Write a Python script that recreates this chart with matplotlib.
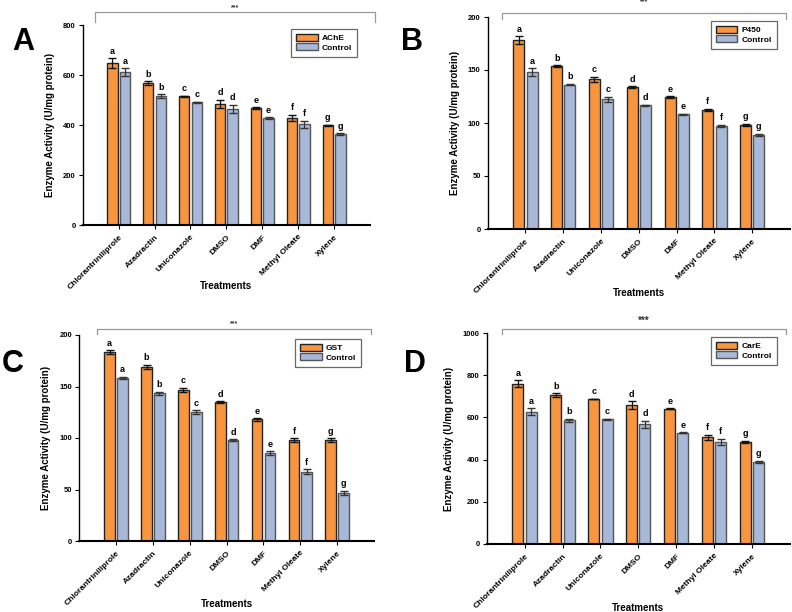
import matplotlib
matplotlib.use("Agg")
import matplotlib.pyplot as plt
import numpy as np
from matplotlib.lines import Line2D

plt.rcParams['font.family'] = ['Liberation Sans', 'DejaVu Sans']
plt.rcParams['font.weight'] = 'bold'

treatments = ["Chlorantriniliprole", "Azadractin", "Uniconazole", "DMSO", "DMF",
              "Methyl Oleate", "Xylene"]
sig_letters = ["a", "b", "c", "d", "e", "f", "g"]

ache = [648, 567, 515, 485, 469, 428, 399]
ache_err = [19, 8, 3, 16, 3, 13, 3]
ache_ctrl = [612, 515, 491, 465, 429, 403, 364]
ache_ctrl_err = [16, 8, 3, 17, 3, 14, 3]

p450 = [178.3, 153.8, 141.2, 134.0, 124.5, 112.3, 98.4]
p450_err = [3.5, 0.7, 2.2, 0.7, 0.7, 1.2, 1.0]
p450_ctrl = [148.0, 136.2, 122.3, 116.7, 108.2, 97.2, 88.7]
p450_ctrl_err = [3.8, 0.7, 2.2, 0.7, 0.7, 1.2, 1.3]

gst = [183.5, 169.3, 146.9, 134.6, 118.1, 98.0, 98.0]
gst_err = [1.6, 2.0, 2.0, 1.0, 1.3, 2.0, 1.7]
gst_ctrl = [158.3, 143.4, 124.9, 97.7, 85.4, 67.3, 46.9]
gst_ctrl_err = [1.2, 1.6, 2.0, 1.0, 1.6, 2.3, 2.0]

care = [760, 706, 687, 659, 641, 505, 485]
care_err = [17, 8, 2, 17, 3, 13, 4]
care_ctrl = [627, 586, 592, 568, 527, 485, 390]
care_ctrl_err = [17, 8, 2, 16, 3, 14, 4]

panels = [
    dict(letter="A", name="AChE", v=ache, e=ache_err, c=ache_ctrl, ce=ache_ctrl_err,
         ymax=800, step=200, pos=[82.7, 25, 370, 225], brk=[95, 375, 12, 22], star_y=8,
         star_fs=5, lpos=(12, 50), tr_y=286),
    dict(letter="B", name="P450", v=p450, e=p450_err, c=p450_ctrl, ce=p450_ctrl_err,
         ymax=200, step=50, pos=[487.7, 17, 790, 229], brk=[502, 786, 13, 19], star_y=2,
         star_fs=5, lpos=(401, 50), tr_y=293),
    dict(letter="C", name="GST", v=gst, e=gst_err, c=gst_ctrl, ce=gst_ctrl_err,
         ymax=200, step=50, pos=[79.3, 335, 374, 541], brk=[97, 371, 329, 334], star_y=324,
         star_fs=5, lpos=(2, 372), tr_y=604),
    dict(letter="D", name="CarE", v=care, e=care_err, c=care_ctrl, ce=care_ctrl_err,
         ymax=1000, step=200, pos=[486.7, 333, 790, 544], brk=[502, 786, 329, 334], star_y=321,
         star_fs=7, lpos=(404, 372), tr_y=608),
]

W, H = 792, 612
fig = plt.figure(figsize=(W / 100, H / 100), dpi=100)

orange = "#F7963F"
blue = "#A8B8D8"

for p in panels:
    x0, ytop, x1, ybot = p["pos"]
    ax = fig.add_axes([x0 / W, 1 - ybot / H, (x1 - x0) / W, (ybot - ytop) / H])
    x = np.arange(len(treatments))
    bw = 0.29
    off = 0.175
    ax.bar(x - off, p["v"], bw, color=orange, edgecolor="#222222", linewidth=1.0,
           yerr=p["e"], error_kw=dict(ecolor="#111111", elinewidth=0.9, capsize=3.2, capthick=1.0),
           label=p["name"], zorder=2)
    ax.bar(x + off, p["c"], bw, color=blue, edgecolor="#555555", linewidth=1.0,
           yerr=p["ce"], error_kw=dict(ecolor="#333333", elinewidth=0.9, capsize=3.2, capthick=1.0),
           label="Control", zorder=2)
    pad = p["ymax"] * 0.012
    for i in range(len(treatments)):
        ax.text(x[i] - off, p["v"][i] + p["e"][i] + pad, sig_letters[i], ha="center", va="bottom",
                fontsize=6.5, fontweight="bold")
        ax.text(x[i] + off, p["c"][i] + p["ce"][i] + pad, sig_letters[i], ha="center", va="bottom",
                fontsize=6.5, fontweight="bold")
    ax.set_xlim(-1, 7)
    ax.set_ylim(0, p["ymax"])
    ax.set_yticks(np.arange(0, p["ymax"] + 1, p["step"]))
    ax.set_xticks(x)
    ax.set_xticklabels(treatments, rotation=45, ha="right", rotation_mode="anchor",
                       fontsize=6, fontweight="bold")
    ax.tick_params(axis="y", labelsize=5.5, length=3, width=0.8, pad=2)
    ax.tick_params(axis="x", length=3, width=0.8, pad=3)
    for lab in ax.get_yticklabels():
        lab.set_fontweight("bold")
    ax.spines["top"].set_visible(False)
    ax.spines["right"].set_visible(False)
    ax.spines["left"].set_linewidth(1.0)
    ax.spines["bottom"].set_linewidth(1.5)
    ax.set_ylabel("Enzyme Activity (U/mg protein)", fontsize=7, fontweight="bold", labelpad=6)
    leg = ax.legend(loc="upper right", fontsize=6, frameon=True, fancybox=False,
                    handlelength=2.6, handleheight=0.9, borderpad=0.6, labelspacing=0.1,
                    handletextpad=0.5, bbox_to_anchor=(0.97, 1.0))
    leg.get_frame().set_edgecolor("#444444")
    leg.get_frame().set_linewidth(0.9)
    for t in leg.get_texts():
        t.set_fontweight("bold")
    fig.text((x0 + x1) / 2 / W, 1 - p["tr_y"] / H, "Treatments", ha="center", va="center",
             fontsize=7, fontweight="bold")
    bx0, bx1, by, byb = p["brk"]
    fig.add_artist(Line2D([bx0 / W, bx0 / W, bx1 / W, bx1 / W],
                          [1 - byb / H, 1 - by / H, 1 - by / H, 1 - byb / H],
                          color="#999999", linewidth=0.9))
    fig.text((bx0 + bx1) / 2 / W, 1 - p["star_y"] / H, "***", ha="center", va="center",
             fontsize=p["star_fs"], fontweight="bold", color="#333333")
    fig.text(p["lpos"][0] / W, 1 - p["lpos"][1] / H, p["letter"], ha="left", va="baseline",
             fontsize=22, fontweight="bold")

fig.savefig("out.png", dpi=100)
